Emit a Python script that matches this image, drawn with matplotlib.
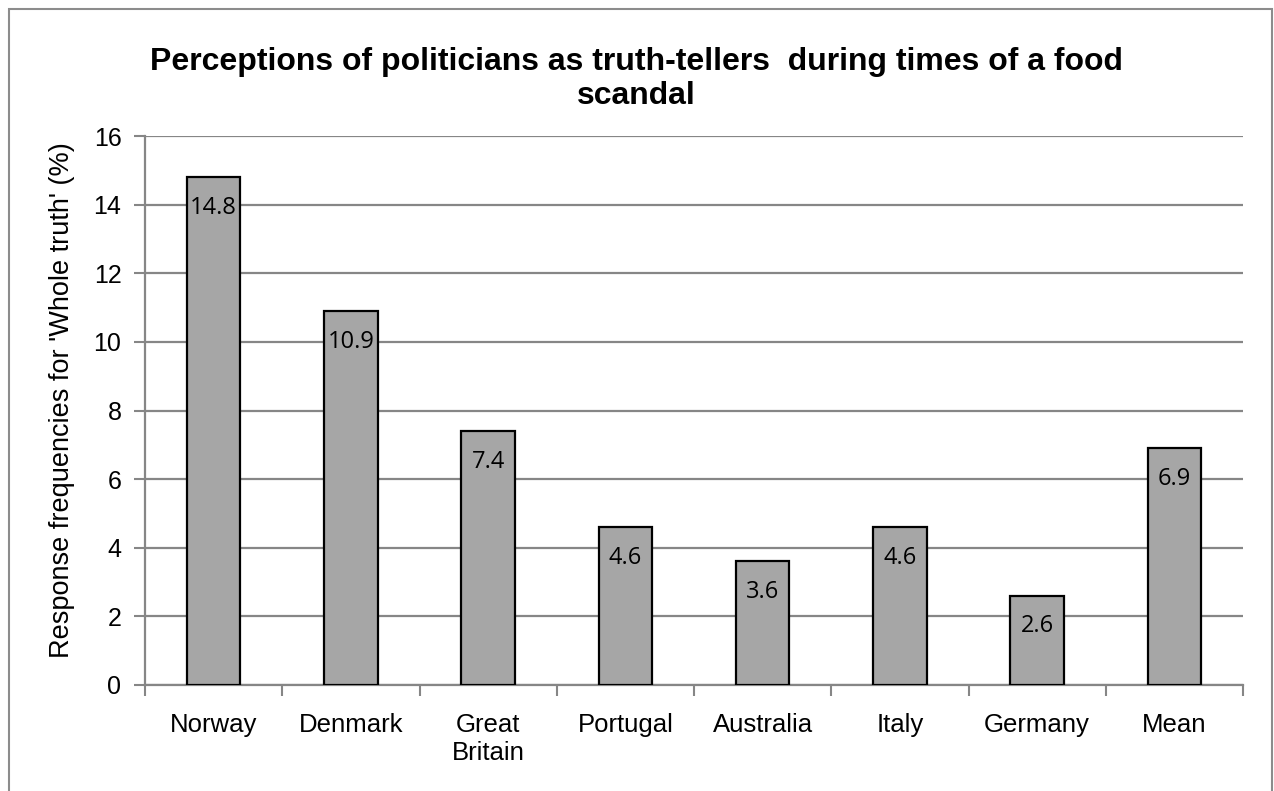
import numpy as np
import matplotlib
matplotlib.use("Agg")
import matplotlib.pyplot as plt
from matplotlib.patches import Rectangle

countries = ["Norway", "Denmark", "Great\nBritain", "Portugal", "Australia", "Italy", "Germany", "Mean"]
whole_truth = [14.8, 10.9, 7.4, 4.6, 3.6, 4.6, 2.6, 6.9]
y_ticks = [0, 2, 4, 6, 8, 10, 12, 14, 16]

title = "Perceptions of politicians as truth-tellers  during times of a food\nscandal"
y_label = "Response frequencies for 'Whole truth' (%)"

plt.rcParams["font.family"] = ["Liberation Sans", "DejaVu Sans"]
grid_color = "#868686"

fig = plt.figure(figsize=(12.74, 7.91), dpi=100)
# outer chart border
fig.patches.append(Rectangle((9 / 1274, -0.01), (1263 / 1274), (782 / 791) + 0.01,
                             transform=fig.transFigure, fill=False,
                             edgecolor="#8c8c8c", linewidth=1.5))

ax = fig.add_axes([145 / 1274, 1 - 685 / 791, (1243 - 145) / 1274, (685 - 136) / 791])

x = np.arange(len(countries))
bars = ax.bar(x, whole_truth, width=0.39, color="#a6a6a6", edgecolor="black",
              linewidth=1.6, zorder=3)

for xi, val in zip(x, whole_truth):
    ax.annotate(f"{val}", (xi, val), xytext=(0, -22), textcoords="offset points",
                ha="center", va="center", fontsize=17, family=["Open Sans", "DejaVu Sans"],
                color="black", zorder=4)

ax.set_xlim(-0.5, len(countries) - 0.5)
ax.set_ylim(0, 16)
ax.set_yticks(y_ticks)
ax.set_yticklabels([str(t) for t in y_ticks], fontsize=18)
ax.yaxis.grid(True, color=grid_color, linewidth=1.6, zorder=0)
ax.set_axisbelow(True)

# categorical ticks between bars
ax.set_xticks(np.arange(-0.5, len(countries)), minor=False)
ax.set_xticklabels([])
ax.set_xticks(x, minor=True)
ax.set_xticklabels(countries, minor=True, fontsize=18.5, linespacing=1.2)
ax.tick_params(axis="x", which="major", direction="out", length=8, width=1.5, color=grid_color)
ax.tick_params(axis="x", which="minor", length=0, pad=20)
ax.tick_params(axis="y", direction="out", length=8, width=1.5, color=grid_color, pad=9)
for lbl in ax.get_xticklabels(minor=True):
    lbl.set_verticalalignment("top")

for side in ["top", "right"]:
    ax.spines[side].set_visible(False)
for side in ["left", "bottom"]:
    ax.spines[side].set_color(grid_color)
    ax.spines[side].set_linewidth(1.6)

ax.set_ylabel(y_label, fontsize=19.5, va="center")
ax.yaxis.set_label_coords(-0.0756, 0.519)
fig.text(636 / 1274, 1 - 79 / 791, title, ha="center", va="center",
         fontsize=23, fontweight="bold", linespacing=1.15)

fig.savefig("out.png", dpi=100)
